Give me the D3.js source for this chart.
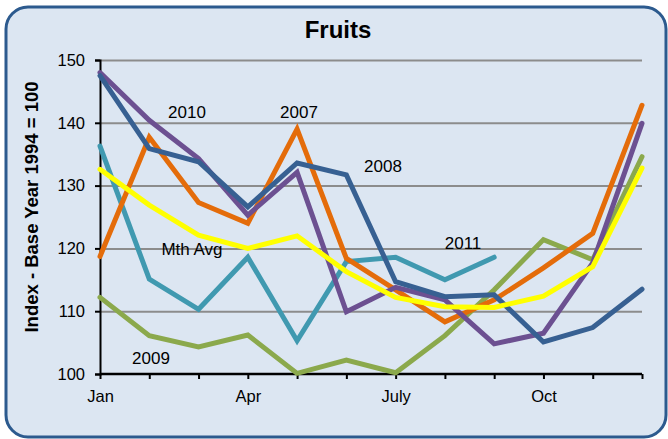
<!DOCTYPE html>
<html>
<head>
<meta charset="utf-8">
<script src="https://cdn.jsdelivr.net/npm/d3@7"></script>
<style>
  body { margin: 0; background: #ffffff; }
  text { font-family: "Liberation Sans", Arial, sans-serif; }
</style>
</head>
<body>
<script>
// data
const months = ["Jan","Feb","Mar","Apr","May","Jun","Jul","Aug","Sep","Oct","Nov","Dec"];
const monthLabels = {Jan: "Jan", Apr: "Apr", Jul: "July", Oct: "Oct"};
const yTicks = [100, 110, 120, 130, 140, 150];

const y2007 = [118.7, 137.7, 127.3, 124.0, 139.0, 118.4, 113.4, 108.3, 111.8, 116.9, 122.4, 142.8];
const y2008 = [147.5, 135.9, 133.8, 126.6, 133.6, 131.7, 114.7, 112.3, 112.6, 105.1, 107.4, 113.5];
const y2009 = [112.2, 106.1, 104.3, 106.2, 100.1, 102.2, 100.2, 106.1, 113.4, 121.4, 118.2, 134.6];
const y2010 = [148.0, 140.4, 134.3, 125.3, 132.1, 109.9, 113.8, 111.8, 104.8, 106.5, 117.7, 139.9];
const y2011 = [136.3, 115.1, 110.3, 118.6, 105.3, 117.9, 118.6, 115.0, 118.6];
const mthAvg = [132.6, 126.9, 122.1, 120.0, 122.0, 116.3, 112.2, 110.7, 110.6, 112.4, 117.1, 132.8];

const series = [
  {name: "2011", values: y2011, color: "#4099B0"},
  {name: "2009", values: y2009, color: "#8BA94C"},
  {name: "2007", values: y2007, color: "#E46C0A"},
  {name: "2010", values: y2010, color: "#6C5091"},
  {name: "2008", values: y2008, color: "#376092"},
  {name: "Mth Avg", values: mthAvg, color: "#FFFF00"}
];

// label placements (pixel anchors, text only)
const labels = [
  {text: "2010", x: 187, y: 118},
  {text: "2007", x: 299, y: 118},
  {text: "2008", x: 383, y: 172},
  {text: "2011", x: 463, y: 249},
  {text: "Mth Avg", x: 192, y: 255},
  {text: "2009", x: 151, y: 364}
];

const width = 668, height = 439;
const svg = d3.select("body").append("svg")
              .attr("width", width)
              .attr("height", height);

// background panel
svg.append("rect")
   .attr("x", 6).attr("y", 7)
   .attr("width", 660).attr("height", 430)
   .attr("rx", 22).attr("ry", 22)
   .attr("fill", "#DCE6F2")
   .attr("stroke", "#2C5A8E")
   .attr("stroke-width", 3);

const x = d3.scalePoint().domain(months).range([100, 642]);
const y = d3.scaleLinear().domain([100, 150]).range([374, 60]);

// gridlines
svg.append("g")
   .selectAll("line")
   .data(yTicks.filter(d => d > 100))
   .enter().append("line")
   .attr("x1", 100).attr("x2", 642)
   .attr("y1", d => y(d) + 0.5).attr("y2", d => y(d) + 0.5)
   .attr("stroke", "#8C8C8C")
   .attr("stroke-width", 2);

// y axis
const yAxis = svg.append("g")
   .attr("transform", "translate(100,0)")
   .call(d3.axisLeft(y).tickValues(yTicks).tickSize(5).tickPadding(10));
yAxis.select(".domain").attr("stroke", "#000").attr("stroke-width", 2);
yAxis.selectAll(".tick line").attr("stroke", "#000").attr("stroke-width", 2);
yAxis.selectAll("text").attr("font-size", 16.5).attr("fill", "#000")
     .attr("font-family", "Liberation Sans, Arial, sans-serif");

// x axis
const xAxis = svg.append("g")
   .attr("transform", "translate(0,374)")
   .call(d3.axisBottom(x).tickSize(5).tickPadding(11)
           .tickFormat(d => monthLabels[d] || ""));
xAxis.select(".domain").attr("stroke", "#000").attr("stroke-width", 2.5)
     .attr("d", "M100,0H642");
xAxis.selectAll(".tick line").attr("stroke", "#000").attr("stroke-width", 2);
xAxis.selectAll("text").attr("font-size", 16.5).attr("fill", "#000")
     .attr("font-family", "Liberation Sans, Arial, sans-serif");

// lines
const line = d3.line()
   .x((d, i) => x(months[i]))
   .y(d => y(d));

svg.append("g")
   .selectAll("path")
   .data(series)
   .enter().append("path")
   .attr("d", d => line(d.values))
   .attr("fill", "none")
   .attr("stroke", d => d.color)
   .attr("stroke-width", 5)
   .attr("stroke-linejoin", "miter")
   .attr("stroke-linecap", "round");

// series labels
svg.append("g")
   .selectAll("text")
   .data(labels)
   .enter().append("text")
   .attr("x", d => d.x).attr("y", d => d.y)
   .attr("text-anchor", "middle")
   .attr("font-size", 17)
   .attr("fill", "#000")
   .text(d => d.text);

// title
svg.append("text")
   .attr("x", 338).attr("y", 38)
   .attr("text-anchor", "middle")
   .attr("font-size", 24)
   .attr("font-weight", "bold")
   .text("Fruits");

// y axis title
svg.append("text")
   .attr("transform", "translate(38,207) rotate(-90)")
   .attr("text-anchor", "middle")
   .attr("font-size", 18.5)
   .attr("font-weight", "bold")
   .text("Index - Base Year 1994 = 100");
</script>
</body>
</html>
